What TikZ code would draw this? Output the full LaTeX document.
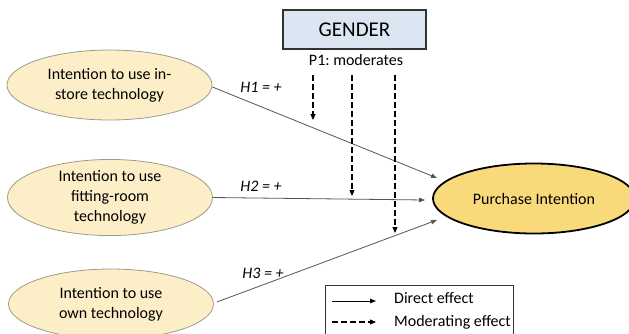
\documentclass[tikz,border=0pt]{standalone}
\usepackage{fontspec}
\setmainfont{Carlito}
\frenchspacing
\usetikzlibrary{arrows.meta,shapes.geometric}
\definecolor{lightell}{HTML}{FCEFC8}
\definecolor{ellborder}{HTML}{A09A88}
\definecolor{darkell}{HTML}{F9DA7A}
\definecolor{genderfill}{HTML}{DCE6F2}
\definecolor{linegray}{HTML}{555555}
\begin{document}
\begin{tikzpicture}[x=1pt,y=-1pt,
  every node/.style={font=\fontsize{16}{20}\selectfont},
  predictor/.style={ellipse, draw=ellborder, line width=0.8pt, fill=lightell,
    minimum width=205pt, minimum height=70pt, inner sep=0pt, align=center},
  outcome/.style={ellipse, draw=black, line width=1.8pt, fill=darkell,
    minimum width=202pt, minimum height=70pt, inner sep=0pt, align=center},
  modbox/.style={rectangle, draw=black!80, line width=1.3pt, fill=genderfill,
    minimum width=143pt, minimum height=39pt, inner sep=0pt,
    font=\fontsize{21}{24}\selectfont},
  direct/.style={draw=linegray, line width=0.8pt, -{Triangle[length=6pt,width=4.5pt]}},
  moder/.style={draw=black, line width=1.1pt, dash pattern=on 5.5pt off 3.5pt,
    -{Triangle[length=6pt,width=5pt]}},
  hlabel/.style={font=\fontsize{16}{20}\selectfont\itshape, inner sep=0pt}
]
\useasboundingbox (0,0) rectangle (629,333);
\clip (0,0) rectangle (629,333);
\fill[white] (0,0) rectangle (629,333);

% nodes
\node[modbox] (gender) at (354.5,29.5) {GENDER};
\node[inner sep=0pt] (p1) at (356,60) {P1: moderates};

\node[predictor] (e1) at (109.5,85) {Intention to use in-\\store technology};
\node[predictor] (e2) at (110,197.5) {Intention to use\\fitting-room\\technology};
\node[predictor] (e3) at (111,304) {Intention to use\\own technology};
\node[outcome] (pi) at (534,198.5) {Purchase Intention};

% direct effect tips
\coordinate (t1) at (437,178);
\coordinate (t2) at (425,200);
\coordinate (t3) at (437,220);
\draw[direct] (e1.east) ++(0,2) -- (t1);
\draw[direct] (e2.east) -- (t2);
\draw[direct] (e3.east) ++(3,-2) -- (t3);

\node[hlabel] (h1) at (261,87) {H1 = +};
\node[hlabel] (h2) at (261,186) {H2 = +};
\node[hlabel] (h3) at (263,273) {H3 = +};

% moderating arrows
\coordinate (m1s) at (313,75);
\coordinate (m1e) at (313,120);
\coordinate (m2s) at (352,75);
\coordinate (m2e) at (352,196);
\coordinate (m3s) at (395,75);
\coordinate (m3e) at (395,233);
\draw[moder] (m1s) -- (m1e);
\draw[moder] (m2s) -- (m2e);
\draw[moder] (m3s) -- (m3e);

% legend
\node[rectangle, draw=black!80, line width=1pt, minimum width=188pt,
  minimum height=62pt, inner sep=0pt] (legend) at (419,316) {};
\coordinate (l1s) at (332,301);
\coordinate (l1e) at (376,301);
\coordinate (l2s) at (332,322);
\coordinate (l2e) at (376,322);
\draw[direct, draw=black] (l1s) -- (l1e);
\draw[moder] (l2s) -- (l2e);
\node[anchor=west, inner sep=0pt] (ld) at (394,298) {Direct effect};
\node[anchor=west, inner sep=0pt] (lm) at (394,322) {Moderating effect};
\end{tikzpicture}
\end{document}
